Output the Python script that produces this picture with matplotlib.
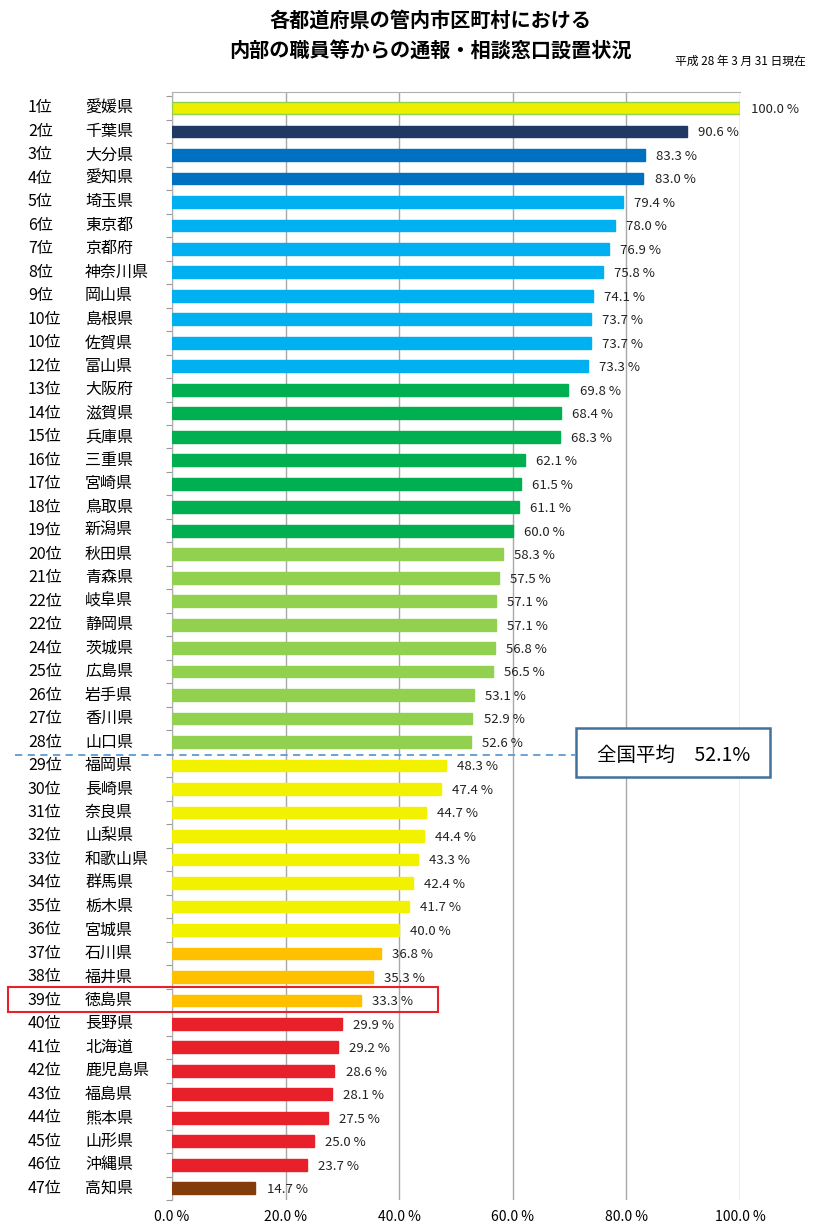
import matplotlib.pyplot as plt
from matplotlib.patches import Rectangle

plt.rcParams['font.family'] = ['Noto Sans CJK JP', 'DejaVu Sans']

ranks = ['1位', '2位', '3位', '4位', '5位', '6位', '7位', '8位', '9位', '10位',
         '10位', '12位', '13位', '14位', '15位', '16位', '17位', '18位', '19位', '20位',
         '21位', '22位', '22位', '24位', '25位', '26位', '27位', '28位', '29位', '30位',
         '31位', '32位', '33位', '34位', '35位', '36位', '37位', '38位', '39位', '40位',
         '41位', '42位', '43位', '44位', '45位', '46位', '47位']
prefs = ['愛媛県', '千葉県', '大分県', '愛知県', '埼玉県', '東京都', '京都府', '神奈川県', '岡山県', '島根県',
         '佐賀県', '富山県', '大阪府', '滋賀県', '兵庫県', '三重県', '宮崎県', '鳥取県', '新潟県', '秋田県',
         '青森県', '岐阜県', '静岡県', '茨城県', '広島県', '岩手県', '香川県', '山口県', '福岡県', '長崎県',
         '奈良県', '山梨県', '和歌山県', '群馬県', '栃木県', '宮城県', '石川県', '福井県', '徳島県', '長野県',
         '北海道', '鹿児島県', '福島県', '熊本県', '山形県', '沖縄県', '高知県']
values = [100.0, 90.6, 83.3, 83.0, 79.4, 78.0, 76.9, 75.8, 74.1, 73.7,
          73.7, 73.3, 69.8, 68.4, 68.3, 62.1, 61.5, 61.1, 60.0, 58.3,
          57.5, 57.1, 57.1, 56.8, 56.5, 53.1, 52.9, 52.6, 48.3, 47.4,
          44.7, 44.4, 43.3, 42.4, 41.7, 40.0, 36.8, 35.3, 33.3, 29.9,
          29.2, 28.6, 28.1, 27.5, 25.0, 23.7, 14.7]
national_avg = 52.1

# colour group per rank band
colors = (['#EEEE00'] + ['#1F3864'] + ['#0070C0'] * 2 + ['#00B0F0'] * 8 +
          ['#00B050'] * 7 + ['#92D050'] * 9 + ['#F2F200'] * 8 +
          ['#FFC000'] * 3 + ['#E8202A'] * 7 + ['#843C0C'])
edges = ['#92D050'] + colors[1:]

W, H = 836, 1229
fig = plt.figure(figsize=(W / 100, H / 100), dpi=100)
ax = fig.add_axes([172 / W, 1 - 1200 / H, (740 - 172) / W, (1200 - 92) / H])

y = list(range(len(values)))
ax.barh(y, values, height=0.5, color=colors, edgecolor=edges, linewidth=1, zorder=3)
ax.set_xlim(0, 100)
ax.set_ylim(46.5, -0.68)

for i, v in enumerate(values):
    ax.annotate(f'{v:.1f} %', (v, i), xytext=(8, -1), textcoords='offset points',
                va='center', ha='left', fontsize=9.5, color='#222222')

ax.set_xticks([0, 20, 40, 60, 80, 100])
ax.set_xticklabels(['0.0 %', '20.0 %', '40.0 %', '60.0 %', '80.0 %', '100.0 %'], fontsize=10)
ax.tick_params(axis='x', length=0, pad=7)
ax.set_yticks([i + 0.5 for i in range(-1, 47)])
ax.set_yticklabels([])
ax.tick_params(axis='y', length=4, color='#999999', direction='out')
ax.grid(axis='x', color='#A8A8A8', linewidth=1, zorder=0)
for s in ['right', 'bottom']:
    ax.spines[s].set_visible(False)
ax.spines['top'].set_color('#B0B0B0')
ax.spines['left'].set_color('#B0B0B0')

# rank and prefecture labels
for i in range(len(values)):
    yy = ax.transData.transform((0, i))[1] / H
    fig.text(28 / W, yy, ranks[i], ha='left', va='center', fontsize=11.5)
    fig.text(85 / W, yy, prefs[i], ha='left', va='center', fontsize=11.5)

# national average line and box
avg_y = 1 - 755 / H
fig.add_artist(plt.Line2D([15 / W, 575 / W], [avg_y, avg_y], color='#5B9BD5',
                          linestyle=(0, (4, 3)), linewidth=1.3))
fig.add_artist(Rectangle((576 / W, 1 - 777 / H), 194 / W, 49 / H, transform=fig.transFigure,
                         facecolor='white', edgecolor='#41719C', linewidth=1.8))
fig.text(597 / W, avg_y, f'全国平均　{national_avg}%', ha='left', va='center', fontsize=14)

# highlight Tokushima row
fig.add_artist(Rectangle((8 / W, 1 - 1012 / H), 430 / W, 25 / H, transform=fig.transFigure,
                         facecolor='none', edgecolor='#E8202A', linewidth=1.5))

fig.text(430 / W, 1 - 20 / H, '各都道府県の管内市区町村における', ha='center', va='center',
         fontsize=14.5, fontweight='bold')
fig.text(430 / W, 1 - 50 / H, '内部の職員等からの通報・相談窓口設置状況', ha='center', va='center',
         fontsize=14.5, fontweight='bold')
fig.text(806 / W, 1 - 61 / H, '平成 28 年 3 月 31 日現在', ha='right', va='center', fontsize=8.5)

fig.savefig('out.png', dpi=100)
